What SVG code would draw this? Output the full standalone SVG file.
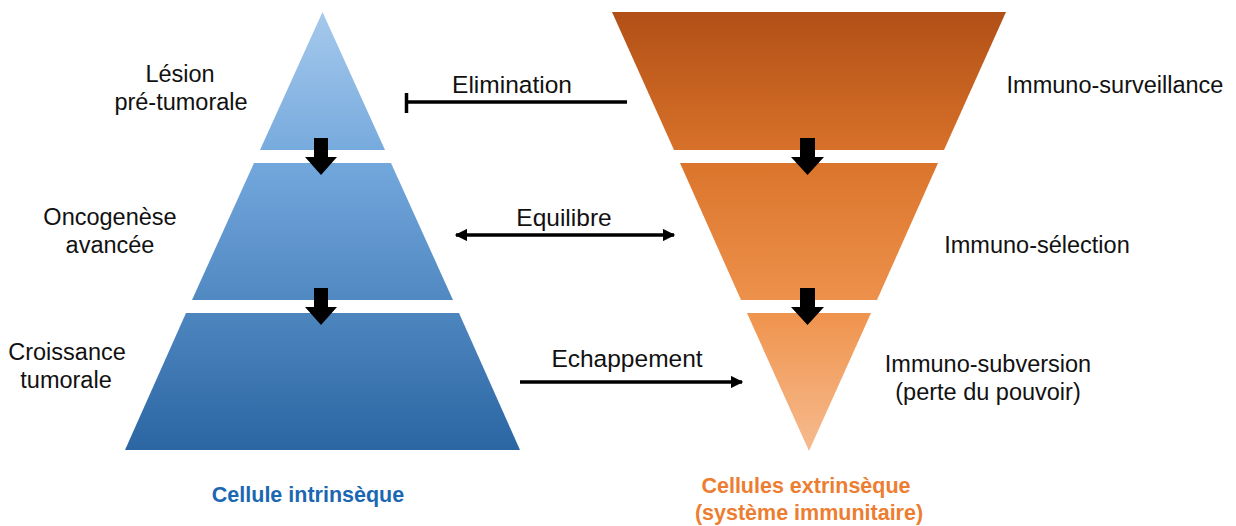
<svg xmlns="http://www.w3.org/2000/svg" width="1236" height="526" viewBox="0 0 1236 526">
<style>
.lbl{font-family:"Liberation Sans",Arial,sans-serif;font-size:23.5px;fill:#111;text-anchor:middle}
.con{font-family:"Liberation Sans",Arial,sans-serif;font-size:24.5px;fill:#111;text-anchor:middle}
.ttl{font-family:"Liberation Sans",Arial,sans-serif;font-size:21.5px;font-weight:bold;text-anchor:middle}
.ln{stroke:#000;stroke-width:3.5;fill:none}
.dn{fill:#000}
</style>
<defs>
<linearGradient id="gBlue" gradientUnits="userSpaceOnUse" x1="0" y1="12" x2="0" y2="450">
<stop offset="0" stop-color="#a6c9ec"/>
<stop offset="0.35" stop-color="#72a7dc"/>
<stop offset="1" stop-color="#2b66a3"/>
</linearGradient>
<linearGradient id="gOrange" gradientUnits="userSpaceOnUse" x1="0" y1="12" x2="0" y2="451">
<stop offset="0" stop-color="#b24f16"/>
<stop offset="0.35" stop-color="#db752c"/>
<stop offset="0.7" stop-color="#f09550"/>
<stop offset="1" stop-color="#f6bb8f"/>
</linearGradient>
<marker id="ah" viewBox="0 0 10 10" refX="9" refY="5" markerWidth="4" markerHeight="3.5" orient="auto-start-reverse" markerUnits="strokeWidth">
<path d="M0,0 L10,5 L0,10 Z" fill="#000"/>
</marker>
</defs>

<g id="left-pyramid">
<g id="node-lesion">
<polygon points="322.5,12 385,150 260,150" fill="url(#gBlue)"/>
<text class="lbl" x="180" y="82">Lésion</text>
<text class="lbl" x="181" y="110">pré-tumorale</text>
</g>
<g id="node-oncogenese">
<polygon points="254,163 391,163 453,300 192,300" fill="url(#gBlue)"/>
<text class="lbl" x="110" y="225">Oncogenèse</text>
<text class="lbl" x="110" y="253">avancée</text>
</g>
<g id="node-croissance">
<polygon points="186,313 459,313 520,450 125,450" fill="url(#gBlue)"/>
<text class="lbl" x="67" y="360">Croissance</text>
<text class="lbl" x="66" y="388">tumorale</text>
</g>
<text id="title-left" class="ttl" x="308" y="502" fill="#1b67b2">Cellule intrinsèque</text>
</g>

<g id="right-pyramid">
<g id="node-surveillance">
<polygon points="612,12 1006,12 944,150 674,150" fill="url(#gOrange)"/>
<text class="lbl" x="1115" y="93">Immuno-surveillance</text>
</g>
<g id="node-selection">
<polygon points="680,163 938,163 877,300 741,300" fill="url(#gOrange)"/>
<text class="lbl" x="1037" y="253">Immuno-sélection</text>
</g>
<g id="node-subversion">
<polygon points="747,313 871,313 809,451" fill="url(#gOrange)"/>
<text class="lbl" x="988" y="372">Immuno-subversion</text>
<text class="lbl" x="988" y="400">(perte du pouvoir)</text>
</g>
<g id="title-right">
<text class="ttl" x="806" y="493" fill="#ed7d31">Cellules extrinsèque</text>
<text class="ttl" x="809" y="520" fill="#ed7d31">(système immunitaire)</text>
</g>
</g>

<g id="connectors">
<polygon class="dn" points="314,138 328,138 328,157 337,157 321,175 305,157 314,157"/>
<polygon class="dn" points="314,288 328,288 328,307 337,307 321,325 305,307 314,307"/>
<polygon class="dn" points="800,138 815,138 815,157 824,157 807.5,175 791,157 800,157"/>
<polygon class="dn" points="800,288 815,288 815,307 824,307 807.5,325 791,307 800,307"/>

<line class="ln" x1="407" y1="102" x2="627" y2="102"/>
<line class="ln" x1="406.5" y1="93" x2="406.5" y2="113"/>
<text class="con" x="512" y="93">Elimination</text>

<line class="ln" x1="456" y1="235" x2="674" y2="235" marker-start="url(#ah)" marker-end="url(#ah)"/>
<text class="con" x="564" y="226">Equilibre</text>

<line class="ln" x1="520" y1="382" x2="742" y2="382" marker-end="url(#ah)"/>
<text class="con" x="627" y="367">Echappement</text>
</g>
</svg>
